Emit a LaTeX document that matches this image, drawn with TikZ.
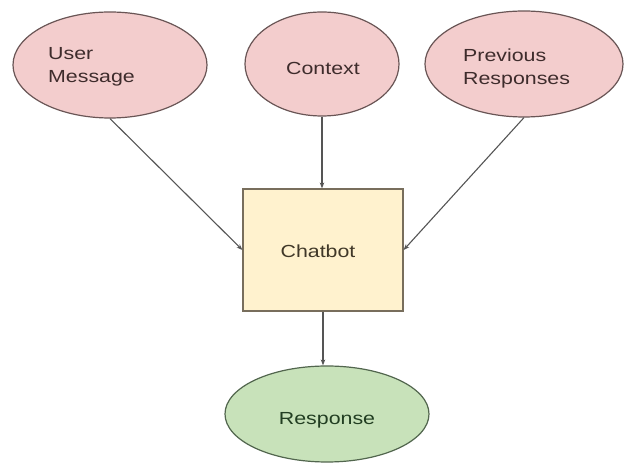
\documentclass[tikz,border=0pt]{standalone}
\usepackage{fontspec}
\setmainfont{Liberation Sans}[FakeStretch=1.22]
\usetikzlibrary{shapes.geometric,arrows.meta}

\definecolor{pinkfill}{RGB}{243,205,205}
\definecolor{pinkdraw}{RGB}{105,85,85}
\definecolor{pinktext}{RGB}{62,44,44}
\definecolor{yellowfill}{RGB}{255,242,206}
\definecolor{yellowdraw}{RGB}{120,110,92}
\definecolor{yellowtext}{RGB}{64,56,40}
\definecolor{greenfill}{RGB}{200,226,186}
\definecolor{greendraw}{RGB}{82,102,78}
\definecolor{greentext}{RGB}{34,62,34}
\definecolor{linkgray}{RGB}{85,85,85}

\tikzset{
  inputnode/.style={ellipse, draw=pinkdraw, fill=pinkfill, line width=1.2pt, inner sep=0pt},
  procnode/.style={rectangle, draw=yellowdraw, fill=yellowfill, line width=1.2pt, inner sep=0pt,
    minimum width=160pt, minimum height=122pt},
  outnode/.style={ellipse, draw=greendraw, fill=greenfill, line width=1.2pt, inner sep=0pt},
  lbl/.style={inner sep=0pt, font=\fontsize{17.5pt}{23pt}\selectfont},
  link/.style={draw=linkgray, line width=1.1pt, -{Stealth[length=6pt,width=4.5pt]}},
}

\begin{document}
\begin{tikzpicture}[x=1pt,y=1pt]
  \useasboundingbox (0,0) rectangle (625,463);
  \fill[white] (0,0) rectangle (625,463);

  % three inputs on top
  \node[inputnode, minimum width=194pt, minimum height=106pt] (um) at (110,398) {};
  \node[inputnode, minimum width=154pt, minimum height=104pt] (ctx) at (322,399) {};
  \node[inputnode, minimum width=198pt, minimum height=106pt] (pr) at (524,399) {};

  \node[lbl, anchor=west, align=left, text=pinktext] (umtext) at (48,396.5) {User\\Message};
  \node[lbl, text=pinktext] (ctxtext) at (323,395) {Context};
  \node[lbl, anchor=west, align=left, text=pinktext] (prtext) at (463,395) {Previous\\Responses};

  % the chatbot in the middle
  \node[procnode] (bot) at (323,213) {};
  \node[lbl, text=yellowtext] (bottext) at (318,212) {Chatbot};

  % output at the bottom
  \node[outnode, minimum width=204pt, minimum height=96pt] (resp) at (327,49) {};
  \node[lbl, text=greentext] (resptext) at (327,43) {Response};

  % connectors
  \draw[link] (um.south) -- (bot.west);
  \draw[link] (ctx.south) -- (ctx.south |- bot.north);
  \draw[link] (pr.south) -- (bot.east);
  \draw[link] (bot.south) -- (bot.south |- resp.north);
\end{tikzpicture}
\end{document}
